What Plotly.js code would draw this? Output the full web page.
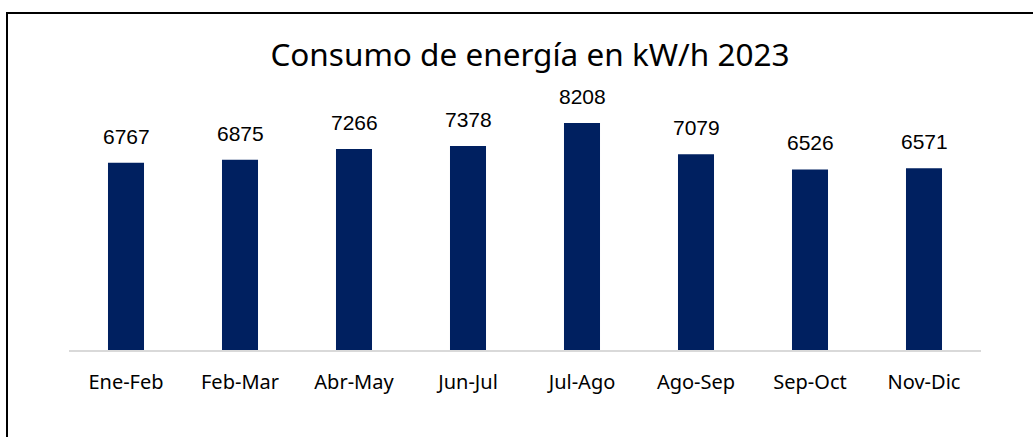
<!DOCTYPE html>
<html>
<head>
<meta charset="utf-8">
<script src="https://cdn.plot.ly/plotly-3.0.1.min.js"></script>
<style>
  html, body { margin: 0; padding: 0; background: #fff; }
  #wrap { position: relative; width: 1033px; height: 437px; overflow: hidden; }
  #chart { width: 1033px; height: 437px; }
  #frame { position: absolute; left: 6px; top: 12px; width: 1100px; height: 500px;
           border-left: 2px solid #000; border-top: 2px solid #000; pointer-events: none; }
</style>
</head>
<body>
<div id="wrap">
  <div id="chart"></div>
  <div id="frame"></div>
</div>
<script>
const categories = ["Ene-Feb", "Feb-Mar", "Abr-May", "Jun-Jul", "Jul-Ago", "Ago-Sep", "Sep-Oct", "Nov-Dic"];
const consumo = [6767, 6875, 7266, 7378, 8208, 7079, 6526, 6571];
const titleText = "Consumo de energía en kW/h 2023";

const trace = {
  type: "bar",
  x: categories,
  y: consumo,
  marker: { color: "#002060" },
  hoverinfo: "skip"
};

const annotations = categories.map((c, i) => ({
  x: c, y: consumo[i], xref: "x", yref: "y",
  text: String(consumo[i]),
  showarrow: false, yanchor: "bottom", yshift: 13,
  font: { family: "Liberation Sans, Arial, sans-serif", size: 21, color: "#000" }
}));

const layout = {
  width: 1033, height: 437,
  margin: { l: 69, r: 52, t: 101, b: 87 },
  paper_bgcolor: "#fff", plot_bgcolor: "#fff",
  bargap: 0.684,
  showlegend: false,
  title: {
    text: titleText,
    font: { family: "Noto Sans, sans-serif", size: 31.5, color: "#000" },
    x: 0.513, xref: "container", xanchor: "center",
    y: 1 - 55 / 437, yref: "container", yanchor: "middle"
  },
  xaxis: {
    type: "category",
    showgrid: false, zeroline: false,
    showline: true, linecolor: "#d9d9d9", linewidth: 2,
    ticks: "", ticklabelstandoff: 13,
    tickfont: { family: "Noto Sans, sans-serif", size: 20, color: "#000" },
    fixedrange: true
  },
  yaxis: {
    range: [0, 9000],
    visible: false, showgrid: false, zeroline: false,
    fixedrange: true
  },
  annotations: annotations
};

Plotly.newPlot("chart", [trace], layout, { displayModeBar: false, staticPlot: true });
</script>
</body>
</html>
